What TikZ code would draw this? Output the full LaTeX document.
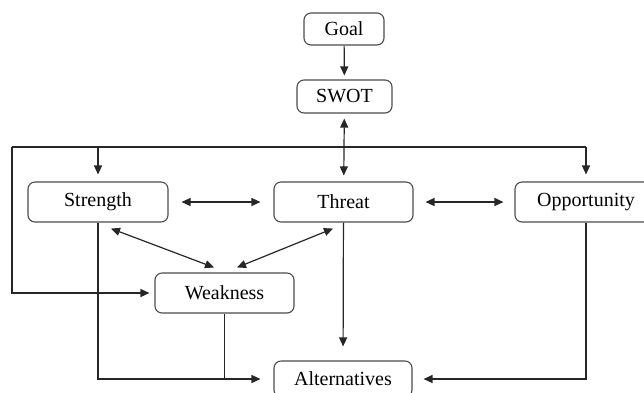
\documentclass[tikz,border=0pt]{standalone}
\usepackage{fontspec}
\setmainfont{Liberation Serif}
\usetikzlibrary{arrows.meta}
\begin{document}
\begin{tikzpicture}[x=1pt,y=-1pt,
  box/.style={draw=black!70,line width=1.1pt,rounded corners=7pt,fill=white,
    inner sep=0pt,font=\fontsize{20}{24}\selectfont},
  conn/.style={line width=1.2pt,black!85},
  arr/.style={conn,-{Triangle[length=9pt,width=8pt]}},
  darr/.style={conn,{Triangle[length=9pt,width=8pt]}-{Triangle[length=9pt,width=8pt]}}]
\useasboundingbox (0,0) rectangle (644,392);
\node[box,minimum width=80pt,minimum height=32pt] (goal) at (344,29) {Goal};
\node[box,minimum width=95pt,minimum height=33pt] (swot) at (344.5,96.5) {SWOT};
\node[box,minimum width=140pt,minimum height=40pt] (str) at (98,202) {Strength};
\node[box,minimum width=139pt,minimum height=40pt] (thr) at (343.5,202) {Threat};
\node[box,minimum width=142pt,minimum height=40pt] (opp) at (586,202) {Opportunity};
\node[box,minimum width=139pt,minimum height=40pt] (weak) at (224.5,293) {Weakness};
\node[box,minimum width=138pt,minimum height=36pt] (alt) at (343,379) {Alternatives};
\coordinate (busL) at (12,147);
\coordinate (busR) at (586,147);
\draw[arr,shorten >=4pt] (goal) -- (swot);
\draw[darr,shorten <=5pt,shorten >=6pt] (swot) -- (thr);
\draw[conn] (busL) -- (busR);
\draw[arr,shorten >=7pt] (str.north |- busL) -- (str);
\draw[arr,shorten >=7pt] (busR) -- (opp);
\draw[arr,shorten >=5pt] (busL) |- (weak.west);
\draw[darr,shorten <=13pt,shorten >=13pt] (str.east) -- (thr.west);
\draw[darr,shorten <=12pt,shorten >=11pt] (thr.east) -- (opp.west);
\draw[darr] ([xshift=13pt,yshift=-6pt]str.south) -- ([xshift=-10.5pt,yshift=5pt]weak.north);
\draw[darr] ([xshift=-10.5pt,yshift=-6pt]thr.south) -- ([xshift=12.5pt,yshift=5pt]weak.north);
\draw[arr,shorten >=14pt] (thr) -- (alt);
\draw[arr,shorten >=13pt] (str.south) |- (alt.west);
\draw[conn] (weak.south) -- (weak.south |- alt.west);
\draw[arr,shorten >=11pt] (opp.south) |- (alt.east);
\end{tikzpicture}
\end{document}
